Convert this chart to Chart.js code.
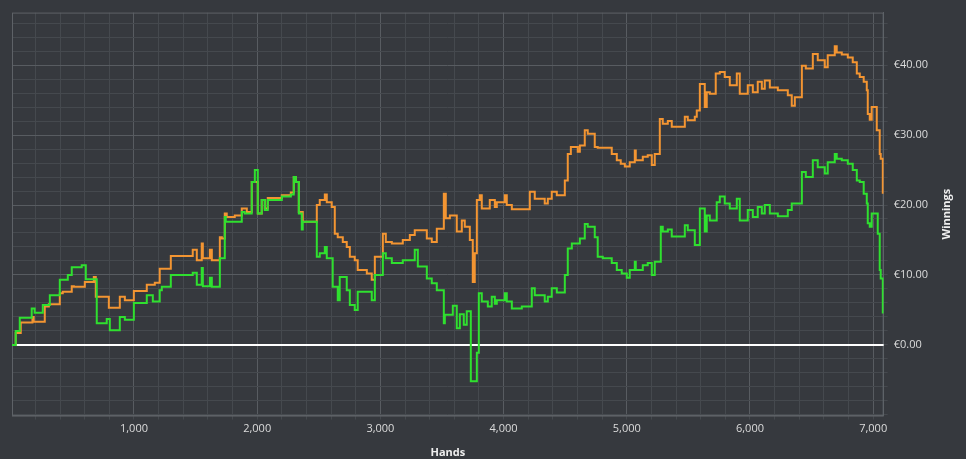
<!DOCTYPE html>
<html>
<head>
<meta charset="utf-8">
<script src="https://cdn.jsdelivr.net/npm/chart.js@4.4.1/dist/chart.umd.min.js"></script>
<style>
  html, body { margin: 0; padding: 0; background: #36393e; }
  #wrap { width: 966px; height: 459px; }
</style>
</head>
<body>
<div id="wrap"><canvas id="winningsChart"></canvas></div>
<script>
// Ganancias acumuladas por mano
const greenHands = [1, 40, 73, 170, 194, 260, 317, 398, 463, 495, 576, 609, 698, 779, 804, 885, 926, 999, 1104, 1153, 1209, 1226, 1299, 1477, 1510, 1550, 1559, 1616, 1632, 1697, 1737, 1745, 1875, 1899, 1956, 1981, 2005, 2037, 2062, 2086, 2200, 2273, 2297, 2314, 2338, 2362, 2370, 2484, 2508, 2549, 2565, 2613, 2654, 2670, 2727, 2752, 2792, 2816, 2930, 2955, 3020, 3044, 3093, 3182, 3279, 3304, 3377, 3417, 3458, 3515, 3523, 3588, 3620, 3645, 3677, 3701, 3734, 3783, 3799, 3823, 3872, 3904, 3929, 3945, 4010, 4026, 4067, 4148, 4229, 4253, 4334, 4359, 4391, 4432, 4497, 4521, 4554, 4619, 4659, 4683, 4740, 4764, 4805, 4878, 4919, 4959, 5000, 5024, 5065, 5073, 5130, 5170, 5203, 5227, 5276, 5292, 5333, 5365, 5471, 5495, 5552, 5593, 5633, 5649, 5674, 5730, 5755, 5795, 5836, 5893, 5917, 5982, 6023, 6063, 6096, 6120, 6161, 6226, 6307, 6339, 6421, 6453, 6510, 6550, 6607, 6631, 6688, 6704, 6745, 6794, 6834, 6867, 6891, 6923, 6948, 6956, 6972, 6988, 7037, 7053, 7061, 7078];
const greenWinnings = [0, 2.0, 3.9, 5.2, 4.6, 5.7, 7.1, 9.3, 10.0, 11.1, 11.4, 9.4, 3.1, 3.7, 2.1, 4.0, 3.6, 6.0, 7.1, 6.2, 7.8, 8.3, 10.0, 10.3, 8.6, 11.0, 8.4, 9.6, 8.3, 12.4, 18.3, 17.6, 19.0, 18.8, 23.3, 25.0, 18.8, 20.7, 19.3, 20.7, 21.2, 21.5, 24.0, 23.3, 18.8, 16.5, 17.6, 12.6, 13.1, 14.0, 12.4, 8.3, 6.4, 9.7, 7.8, 5.7, 5.0, 7.6, 6.4, 10.0, 13.1, 12.4, 11.7, 12.1, 13.6, 11.2, 9.5, 8.8, 7.8, 3.1, 4.3, 5.6, 2.4, 4.4, 2.9, 4.8, -5.2, -1.1, 7.4, 6.2, 5.5, 6.9, 5.9, 6.4, 7.4, 6.2, 5.2, 5.5, 8.1, 7.1, 6.2, 6.9, 8.1, 7.5, 10.0, 13.8, 14.5, 15.2, 17.3, 16.9, 15.4, 12.6, 12.4, 11.7, 10.7, 10.2, 9.6, 10.7, 11.9, 10.7, 11.4, 11.7, 10.0, 11.9, 16.9, 16.2, 16.5, 15.5, 17.1, 16.4, 14.3, 19.5, 16.2, 18.5, 17.8, 20.4, 21.2, 20.2, 19.5, 20.9, 17.8, 19.3, 18.3, 19.7, 18.8, 20.0, 18.8, 18.4, 19.3, 20.2, 24.7, 24.0, 26.4, 25.4, 24.5, 26.1, 27.3, 26.6, 26.4, 25.9, 25.0, 23.5, 23.3, 21.6, 20.2, 17.4, 16.9, 18.8, 15.9, 10.7, 9.5, 4.5];

const orangeHands = [1, 40, 81, 176, 186, 276, 309, 398, 422, 495, 512, 601, 674, 690, 796, 885, 926, 999, 1104, 1169, 1209, 1299, 1477, 1510, 1550, 1559, 1616, 1632, 1697, 1713, 1737, 1753, 1818, 1875, 1916, 1956, 2005, 2037, 2062, 2086, 2200, 2273, 2297, 2314, 2338, 2370, 2484, 2508, 2549, 2565, 2605, 2630, 2654, 2695, 2727, 2752, 2792, 2816, 2890, 2930, 2955, 3020, 3044, 3093, 3182, 3239, 3279, 3377, 3417, 3458, 3515, 3531, 3564, 3620, 3661, 3685, 3726, 3750, 3766, 3783, 3807, 3823, 3888, 3929, 3945, 4010, 4026, 4067, 4213, 4253, 4334, 4359, 4391, 4432, 4497, 4521, 4546, 4602, 4619, 4659, 4683, 4740, 4764, 4878, 4919, 4951, 4984, 5024, 5065, 5073, 5130, 5170, 5203, 5227, 5268, 5292, 5333, 5365, 5471, 5495, 5552, 5568, 5593, 5633, 5649, 5674, 5722, 5755, 5795, 5836, 5893, 5917, 5982, 6023, 6063, 6096, 6120, 6161, 6226, 6307, 6339, 6364, 6421, 6453, 6510, 6550, 6607, 6631, 6688, 6704, 6745, 6794, 6834, 6867, 6891, 6923, 6948, 6956, 6972, 6988, 7029, 7053, 7061, 7078];
const orangeWinnings = [0, 1.7, 3.2, 4.0, 3.3, 5.5, 5.8, 7.4, 7.6, 8.4, 8.3, 9.0, 9.7, 6.9, 5.3, 6.9, 6.4, 7.7, 8.6, 8.9, 10.9, 12.7, 13.6, 12.1, 14.5, 12.4, 13.6, 12.1, 15.4, 15.2, 18.8, 18.3, 18.5, 19.5, 19.0, 23.3, 18.8, 20.7, 19.5, 21.0, 21.4, 21.8, 24.0, 23.3, 19.0, 17.6, 20.0, 20.7, 21.5, 20.4, 19.7, 15.9, 15.4, 14.7, 14.0, 12.6, 12.1, 10.7, 10.2, 9.3, 12.6, 15.9, 14.7, 14.5, 15.0, 15.7, 16.4, 15.2, 14.7, 16.6, 21.6, 18.1, 18.5, 16.2, 17.8, 16.9, 15.0, 9.0, 13.1, 20.7, 21.4, 19.5, 20.7, 19.7, 20.4, 21.4, 20.0, 19.4, 21.9, 20.9, 20.2, 20.9, 21.9, 21.4, 23.5, 27.3, 28.3, 27.6, 28.5, 30.7, 30.2, 28.3, 28.2, 27.3, 26.4, 25.9, 25.5, 26.1, 27.8, 26.4, 26.9, 27.1, 25.7, 27.3, 32.3, 31.6, 32.0, 31.2, 32.6, 32.1, 32.6, 33.5, 37.3, 34.0, 36.1, 35.9, 38.8, 39.0, 38.3, 37.1, 38.8, 35.9, 37.1, 36.1, 37.6, 36.6, 37.8, 36.8, 36.4, 35.7, 34.2, 35.4, 39.9, 39.5, 41.6, 40.7, 39.7, 41.4, 42.7, 41.8, 41.5, 41.1, 40.4, 38.8, 38.3, 37.6, 36.4, 33.0, 32.2, 34.0, 30.7, 27.3, 26.6, 21.6];

// Ejes
const handsMin = 10;
const handsMax = 7085;
const winningsMin = -10.1;
const winningsMax = 47.5;
const handsStep = 200;     // líneas menores
const winningsStep = 2;

const MAJOR = '#585c61';
const MINOR = '#45494e';
const FRAME = '#5e6267';

// Convierte dos arrays en puntos {x, y}
function toPoints(xs, ys) {
  return xs.map((x, i) => ({ x: x, y: ys[i] }));
}

// Marco completo del área del gráfico, línea del cero y título vertical
const framePlugin = {
  id: 'frame',
  beforeDatasetsDraw(chart) {
    const { ctx, chartArea: a } = chart;
    ctx.save();
    ctx.strokeStyle = FRAME;
    ctx.lineWidth = 1;
    ctx.strokeRect(a.left + 0.5, a.top + 0.5, a.right - a.left - 1, a.bottom - a.top);
    const y0 = Math.round(chart.scales.y.getPixelForValue(0));
    ctx.strokeStyle = '#ffffff';
    ctx.lineWidth = 2;
    ctx.beginPath();
    ctx.moveTo(a.left, y0);
    ctx.lineTo(a.right, y0);
    ctx.stroke();
    ctx.restore();
  },
  afterDraw(chart) {
    const { ctx, chartArea: a } = chart;
    ctx.save();
    ctx.translate(947, (a.top + a.bottom) / 2);
    ctx.rotate(-Math.PI / 2);
    ctx.fillStyle = '#eeeeee';
    ctx.font = 'bold 11px "Open Sans"';
    ctx.textAlign = 'center';
    ctx.textBaseline = 'middle';
    ctx.fillText('Winnings', 0, 0);
    ctx.restore();
  }
};

function everyStep(min, max, step) {
  const out = [];
  for (let v = Math.ceil(min / step) * step; v <= max; v += step) out.push({ value: v });
  return out;
}

new Chart(document.getElementById('winningsChart'), {
  type: 'line',
  data: {
    datasets: [
      {
        label: 'Green',
        data: toPoints(greenHands, greenWinnings),
        borderColor: '#2fe02f',
        borderWidth: 2,
        stepped: true,
        pointRadius: 0,
        fill: false
      },
      {
        label: 'Orange',
        data: toPoints(orangeHands, orangeWinnings),
        borderColor: '#f39532',
        borderWidth: 2,
        stepped: true,
        pointRadius: 0,
        fill: false
      }
    ]
  },
  options: {
    responsive: true,
    maintainAspectRatio: false,
    animation: false,
    layout: { padding: { left: 12, top: 12, right: 32, bottom: 0 } },
    plugins: {
      legend: { display: false },
      tooltip: { enabled: false }
    },
    scales: {
      x: {
        type: 'linear',
        min: handsMin,
        max: handsMax,
        afterBuildTicks: (scale) => { scale.ticks = everyStep(handsMin, handsMax, handsStep); },
        ticks: {
          color: '#dcdcdc',
          font: { family: 'Open Sans', size: 11 },
          padding: 3,
          maxRotation: 0,
          autoSkip: false,
          callback: (v) => (v % 1000 === 0 ? v.toLocaleString('en-US') : '')
        },
        grid: {
          color: (c) => (c.tick && c.tick.value % 1000 === 0 ? MAJOR : MINOR),
          tickColor: MINOR,
          tickLength: 4
        },
        border: { color: FRAME },
        title: {
          display: true,
          text: 'Hands',
          color: '#eeeeee',
          font: { family: 'Open Sans', size: 11, weight: 'bold' },
          padding: { top: 7, bottom: 0 }
        }
      },
      y: {
        position: 'right',
        min: winningsMin,
        max: winningsMax,
        afterBuildTicks: (scale) => { scale.ticks = everyStep(winningsMin, winningsMax, winningsStep); },
        ticks: {
          color: '#dcdcdc',
          font: { family: 'Open Sans', size: 11 },
          padding: 6,
          autoSkip: false,
          callback: (v) => (v % 10 === 0 && v >= 0 ? '€' + v.toFixed(2) : '')
        },
        grid: {
          color: (c) => (c.tick && c.tick.value % 10 === 0 && c.tick.value >= 0 ? MAJOR : MINOR),
          tickColor: MINOR,
          tickLength: 4
        },
        border: { color: FRAME }
      }
    }
  },
  plugins: [framePlugin]
});
</script>
</body>
</html>
